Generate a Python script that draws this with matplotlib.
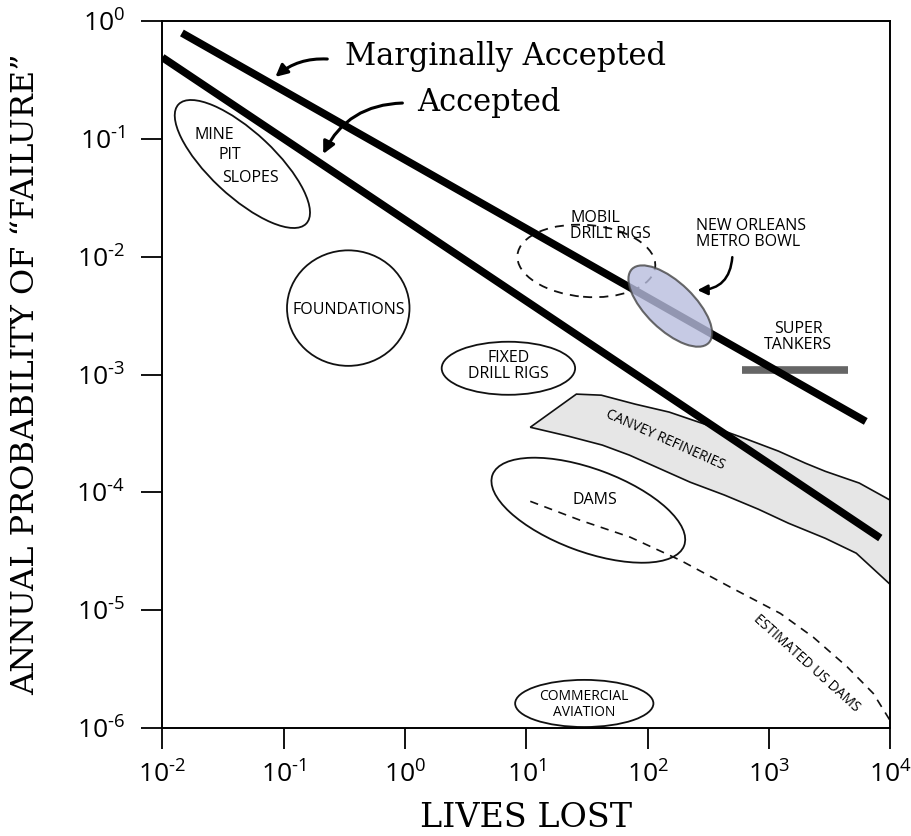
import numpy as np
import matplotlib
matplotlib.use("Agg")
import matplotlib.pyplot as plt
from matplotlib.patches import Ellipse, Polygon

plt.rcParams['font.family'] = ['Open Sans', 'DejaVu Sans']
plt.rcParams['mathtext.fontset'] = 'custom'
plt.rcParams['mathtext.rm'] = 'Open Sans'
plt.rcParams['mathtext.it'] = 'Open Sans:italic'
plt.rcParams['mathtext.bf'] = 'Open Sans:bold'

# axis ticks
xticks = [1e-2, 1e-1, 1e0, 1e1, 1e2, 1e3, 1e4]
yticks = [1e-6, 1e-5, 1e-4, 1e-3, 1e-2, 1e-1, 1e0]

# criteria lines (lives lost, annual probability)
marginal_x = [0.0145, 6300]
marginal_y = [0.79, 4.0e-4]
accepted_x = [0.01, 8300]
accepted_y = [0.49, 4.1e-5]

# super tankers bar
tanker_x = [600, 4500]
tanker_y = [1.1e-3, 1.1e-3]

# Canvey refineries band (outline, clockwise)
canvey_x = [10.8, 25.9, 41.6, 79, 151, 330, 628, 1200, 2000, 2920, 5570, 10000,
            10000, 5260, 2920, 1450, 820, 430, 225, 118, 71, 42.4, 22.2]
canvey_y = [3.57e-4, 6.82e-4, 6.68e-4, 5.61e-4, 4.80e-4, 3.65e-4, 2.88e-4, 2.24e-4,
            1.77e-4, 1.51e-4, 1.20e-4, 8.6e-5,
            1.66e-5, 3.05e-5, 4.08e-5, 5.48e-5, 7.2e-5, 9.5e-5, 1.22e-4, 1.64e-4,
            2.07e-4, 2.52e-4, 3.0e-4]

# estimated US dams curve
usdams_x = [10.8, 27.9, 72, 186, 482, 1245, 2330, 4440, 7270, 10000]
usdams_y = [8.4e-5, 5.8e-5, 4.17e-5, 2.66e-5, 1.57e-5, 9.4e-6, 5.9e-6, 3.3e-6, 1.97e-6, 1.16e-6]

# regions: centre (lives, prob), width / height in decades, angle
regions = {
    'mine':       (0.0457, 0.0611, 1.46, 0.54, -44),
    'foundation': (0.341, 3.66e-3, 1.01, 0.98, 0),
    'fixed':      (7.13, 1.13e-3, 1.10, 0.45, 0),
    'mobil':      (31.3, 9.2e-3, 1.14, 0.61, -5),
    'neworleans': (154, 3.81e-3, 0.89, 0.40, -45),
    'dams':       (32.5, 7.06e-5, 1.69, 0.70, -21),
    'aviation':   (30.1, 1.62e-6, 1.14, 0.40, 0),
}

fig = plt.figure(figsize=(9.12, 8.36), dpi=100)
ax = fig.add_axes([0.178, 0.129, 0.798, 0.846])
ax.set_xscale('log')
ax.set_yscale('log')
ax.set_xlim(1e-2, 1e4)
ax.set_ylim(1e-6, 1e0)

# transform from log10 space to display
logtrans = ax.transLimits + ax.transAxes


def region(key, **kw):
    cx, cy, w, h, ang = regions[key]
    e = Ellipse((np.log10(cx), np.log10(cy)), w, h, angle=ang, transform=logtrans, **kw)
    ax.add_patch(e)
    return e


ax.add_patch(Polygon(np.column_stack([canvey_x, canvey_y]), closed=True,
                     facecolor='#e6e6e6', edgecolor='#111111', lw=1.2, zorder=1))
ax.plot(usdams_x, usdams_y, color='#111111', lw=1.2, dashes=(5, 4), zorder=2)

region('mine', facecolor='none', edgecolor='#111111', lw=1.3, zorder=2)
region('foundation', facecolor='none', edgecolor='#111111', lw=1.3, zorder=2)
region('fixed', facecolor='none', edgecolor='#111111', lw=1.3, zorder=2)
region('mobil', facecolor='none', edgecolor='#111111', lw=1.3, linestyle=(0, (5, 4)), zorder=2)
region('dams', facecolor='none', edgecolor='#111111', lw=1.3, zorder=2)
region('aviation', facecolor='none', edgecolor='#111111', lw=1.3, zorder=2)

ax.plot(tanker_x, tanker_y, color='#666666', lw=5.5, solid_capstyle='butt', zorder=3)
ax.plot(marginal_x, marginal_y, color='black', lw=5.5, solid_capstyle='butt', zorder=4)
ax.plot(accepted_x, accepted_y, color='black', lw=5.5, solid_capstyle='butt', zorder=4)

region('neworleans', facecolor=(0.72, 0.74, 0.87), alpha=0.8, edgecolor='#444444', lw=1.5, zorder=5)

fs = 11.5
ax.text(0.0268, 0.1077, 'MINE', fontsize=fs, ha='center', va='center')
ax.text(0.0357, 0.0728, 'PIT', fontsize=fs, ha='center', va='center')
ax.text(0.0531, 0.0465, 'SLOPES', fontsize=fs, ha='center', va='center')
ax.text(0.341, 3.52e-3, 'FOUNDATIONS', fontsize=fs, ha='center', va='center')
ax.text(7.13, 1.18e-3, 'FIXED\nDRILL RIGS', fontsize=fs, ha='center', va='center',
        linespacing=1.05)
ax.text(23.1, 0.0182, 'MOBIL\nDRILL RIGS', fontsize=fs, ha='left', va='center',
        linespacing=1.05)
ax.text(252, 0.01556, 'NEW ORLEANS\nMETRO BOWL', fontsize=fs, ha='left', va='center',
        linespacing=1.05)
ax.text(1750, 2.08e-3, 'SUPER\nTANKERS', fontsize=fs, ha='center', va='center',
        linespacing=1.05)
ax.text(140, 2.77e-4, 'CANVEY REFINERIES', fontsize=fs - 1.5, ha='center', va='center',
        rotation=-24)
ax.text(37.1, 8.6e-5, 'DAMS', fontsize=fs, ha='center', va='center')
ax.text(2040, 3.55e-6, 'ESTIMATED US DAMS', fontsize=fs - 1.5, ha='center', va='center',
        rotation=-42)
ax.text(30.1, 1.59e-6, 'COMMERCIAL\nAVIATION', fontsize=fs - 1.5, ha='center', va='center',
        linespacing=1.05)

ax.text(0.323, 0.495, 'Marginally Accepted', family='DejaVu Serif', fontsize=22,
        ha='left', va='center')
ax.text(1.265, 0.205, 'Accepted', family='DejaVu Serif', fontsize=22,
        ha='left', va='center')

arrow = dict(arrowstyle='-|>', color='black', lw=2.2, mutation_scale=18, shrinkA=0, shrinkB=0)
ax.annotate('', xy=(0.0855, 0.335), xytext=(0.229, 0.475),
            arrowprops=dict(arrow, connectionstyle='arc3,rad=0.2'), zorder=6)
ax.annotate('', xy=(0.212, 0.0743), xytext=(0.953, 0.201),
            arrowprops=dict(arrow, connectionstyle='arc3,rad=0.3'), zorder=6)
ax.annotate('', xy=(258, 5.2e-3), xytext=(500, 9.9e-3),
            arrowprops=dict(arrow, lw=1.8, mutation_scale=15,
                            connectionstyle='arc3,rad=-0.45'), zorder=6)

ax.set_xticks(xticks)
ax.set_yticks(yticks)
ax.minorticks_off()
fmt = lambda v, p: r'$\mathrm{10}^{\text{%d}}$' % round(np.log10(v))
ax.xaxis.set_major_formatter(plt.FuncFormatter(fmt))
ax.yaxis.set_major_formatter(plt.FuncFormatter(fmt))
ax.tick_params(which='major', direction='out', length=15, width=1.3, labelsize=19)
ax.tick_params(axis='y', pad=12)
ax.tick_params(axis='x', pad=9)
for s in ax.spines.values():
    s.set_linewidth(1.4)

ax.set_xlabel('LIVES LOST', family='DejaVu Serif', fontsize=24)
ax.set_ylabel('ANNUAL PROBABILITY OF \u201cFAILURE\u201d', family='DejaVu Serif', fontsize=23)
ax.xaxis.set_label_coords(0.5, -0.104)
ax.yaxis.set_label_coords(-0.166, 0.5)

fig.savefig('out.png', dpi=100)
